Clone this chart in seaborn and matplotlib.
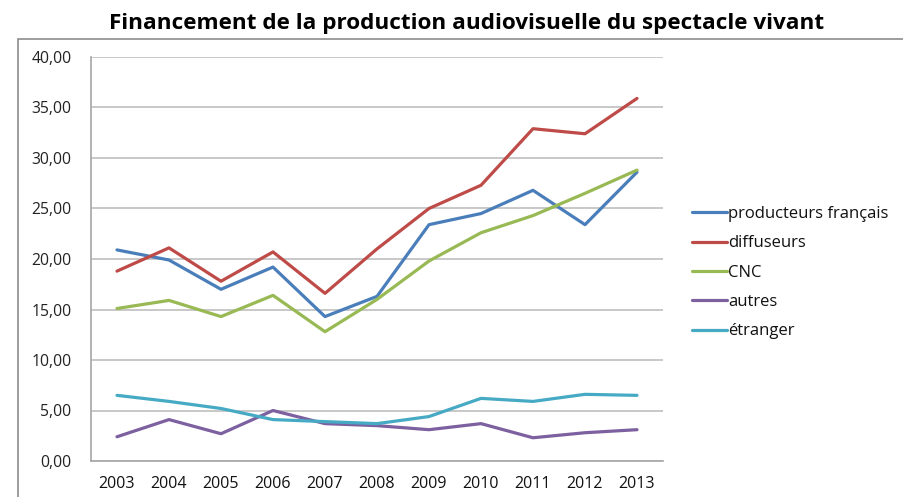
import numpy as np
import pandas as pd
import matplotlib
matplotlib.use("Agg")
import matplotlib.pyplot as plt
from matplotlib.patches import Rectangle
from matplotlib.ticker import FuncFormatter, MultipleLocator, FixedLocator
import seaborn as sns

years = ["2003", "2004", "2005", "2006", "2007", "2008", "2009", "2010", "2011", "2012", "2013"]
producteurs = [20.9, 19.9, 17.0, 19.2, 14.3, 16.3, 23.4, 24.5, 26.8, 23.4, 28.6]
diffuseurs = [18.8, 21.1, 17.8, 20.7, 16.6, 21.0, 25.0, 27.3, 32.9, 32.4, 35.9]
cnc = [15.1, 15.9, 14.3, 16.4, 12.8, 16.0, 19.8, 22.6, 24.3, 26.5, 28.8]
autres = [2.4, 4.1, 2.7, 5.0, 3.7, 3.5, 3.1, 3.7, 2.3, 2.8, 3.1]
etranger = [6.5, 5.9, 5.2, 4.1, 3.9, 3.7, 4.4, 6.2, 5.9, 6.6, 6.5]

series_names = ["producteurs français", "diffuseurs", "CNC", "autres", "étranger"]
series_values = [producteurs, diffuseurs, cnc, autres, etranger]
colors = ["#4A7EBB", "#BE4B48", "#98B954", "#7D60A0", "#46AAC5"]
title = "Financement de la production audiovisuelle du spectacle vivant"

rows = []
for name, vals in zip(series_names, series_values):
    for i, (y, v) in enumerate(zip(years, vals)):
        rows.append({"idx": i, "year": y, "serie": name, "val": v})
df = pd.DataFrame(rows)

sns.set_theme(style="white")
plt.rcParams["font.family"] = ["Open Sans", "DejaVu Sans"]

fig = plt.figure(figsize=(9.04, 4.97), dpi=100)
ax = fig.add_axes([91 / 904, 36 / 497, (663 - 91) / 904, (461 - 57) / 497])

sns.lineplot(data=df, x="idx", y="val", hue="serie", hue_order=series_names,
             palette=colors, linewidth=2.3, ax=ax, legend=False, sort=False)

ax.set_xlim(-0.5, 10.5)
ax.set_ylim(0, 40)
ax.yaxis.set_major_locator(MultipleLocator(5))
ax.yaxis.set_major_formatter(FuncFormatter(lambda v, p: f"{v:.2f}".replace(".", ",")))
ax.grid(axis="y", color="#BFBFBF", linewidth=1.2)
ax.set_axisbelow(True)
ax.set_xticks(range(len(years)))
ax.set_xticklabels(years)
ax.xaxis.set_minor_locator(FixedLocator(np.arange(-0.5, 11, 1.0)))
ax.tick_params(axis="x", which="major", length=0, labelsize=11.5, colors="#111111", pad=11)
ax.tick_params(axis="x", which="minor", length=5, color="#A6A6A6", width=1.2, direction="out")
ax.tick_params(axis="y", which="major", length=6, color="#A6A6A6", width=1.2, direction="out",
               labelsize=11.3, colors="#222222", pad=8)
for s in ["top", "right"]:
    ax.spines[s].set_visible(False)
for s in ["left", "bottom"]:
    ax.spines[s].set_color("#A6A6A6")
    ax.spines[s].set_linewidth(1.2)
ax.set_xlabel("")
ax.set_ylabel("")

handles = [plt.Line2D([], [], color=c, linewidth=2.3) for c in colors]
fig.legend(handles, series_names, loc="upper left", bbox_to_anchor=(692 / 904, 1 - 206 / 497),
           frameon=False, fontsize=12, handlelength=2.1, handletextpad=0.05,
           labelspacing=0.8, borderaxespad=0, borderpad=0, labelcolor="#111111")

fig.patches.append(Rectangle((18 / 904, -0.05), 1.0, 1 - 39 / 497 + 0.05, transform=fig.transFigure,
                             fill=False, edgecolor="#8C8C8C", linewidth=1.2))

fig.text(467 / 904, 1 - 23 / 497, title, ha="center", va="center", fontsize=16.2,
         fontweight="bold", color="#000000")

fig.savefig("out.png", dpi=100, facecolor="white")
